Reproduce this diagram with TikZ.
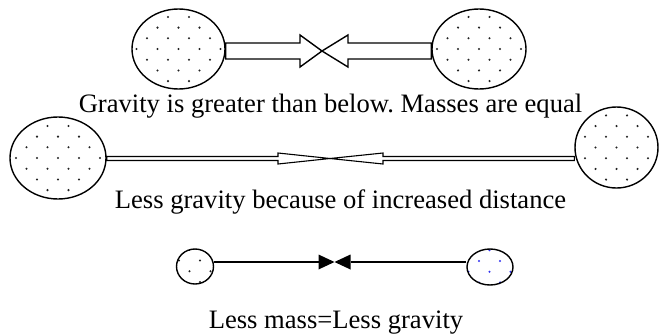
\documentclass[tikz,border=0pt]{standalone}
\usepackage{fontspec}
\setmainfont{Liberation Serif}
\usetikzlibrary{shapes.geometric,calc}
\definecolor{dotgray}{HTML}{222222}
\definecolor{dotblue}{HTML}{3030F0}
\tikzset{
  body/.style={ellipse, draw=black, line width=1.4pt, fill=white, inner sep=0pt},
  speckled/.style n args={3}{path picture={
    \foreach \j in {-4,...,4}{
      \foreach \i in {-3,...,3}{
        \fill[#1] ($(path picture bounding box.center)+({#2+21*\i+10.5*mod(\j+10,2)},{#3+10.7*\j})$) circle (1.15);
      }
    }}},
  blockarrow/.style={draw=black, line width=1.4pt, fill=white, line join=miter},
  thinarrow/.style={draw=black, line width=1.1pt, fill=white, line join=miter},
  connector/.style={draw=black, line width=1.4pt},
  headtri/.style={fill=black},
  caption/.style={font=\fontsize{26.6}{30}\selectfont\frenchspacing, anchor=base, inner sep=0pt}
}
\begin{document}
\begin{tikzpicture}[x=1pt,y=-1pt]
\useasboundingbox (0,0) rectangle (659,335);

% top row
\node[body, speckled={dotgray}{0}{0}, minimum width=93pt, minimum height=80pt] (eL) at (178.5,49) {};
\node[body, speckled={dotgray}{0}{0}, minimum width=94pt, minimum height=80pt] (eR) at (479,49) {};
\coordinate (tA) at (322,51);
\draw[blockarrow] ($(eL.east|-tA)+(0,-8)$) -- ($(tA)+(-22,-8)$) -- ($(tA)+(-22,-16)$) -- (tA)
  -- ($(tA)+(-22,16)$) -- ($(tA)+(-22,8)$) -- ($(eL.east|-tA)+(0,8)$) -- cycle;
\draw[blockarrow] ($(eR.west|-tA)+(0,-8)$) -- ($(tA)+(26,-8)$) -- ($(tA)+(26,-16)$) -- (tA)
  -- ($(tA)+(26,16)$) -- ($(tA)+(26,8)$) -- ($(eR.west|-tA)+(0,8)$) -- cycle;
\node[caption] (t1) at (330.5,112) {Gravity is greater than below. Masses are equal};

% middle row
\node[body, speckled={dotgray}{0}{0}, minimum width=96pt, minimum height=82pt] (mL) at (58,158) {};
\node[body, speckled={dotgray}{0}{0}, minimum width=83pt, minimum height=81pt] (mR) at (616.5,147.5) {};
\coordinate (tM) at (330,158.5);
\draw[thinarrow] ($(mL.east|-tM)+(0,-2)$) -- ($(tM)+(-52,-2)$) -- ($(tM)+(-52,-5.5)$) -- (tM)
  -- ($(tM)+(-52,5.5)$) -- ($(tM)+(-52,2)$) -- ($(mL.east|-tM)+(0,2)$) -- cycle;
\draw[thinarrow] ($(mR.west|-tM)+(0,-2)$) -- ($(tM)+(53,-2)$) -- ($(tM)+(53,-5.5)$) -- (tM)
  -- ($(tM)+(53,5.5)$) -- ($(tM)+(53,2)$) -- ($(mR.west|-tM)+(0,2)$) -- cycle;
\node[caption] (t2) at (340.5,208.5) {Less gravity because of increased distance};

% bottom row
\node[body, speckled={dotgray}{5}{-6}, minimum width=37pt, minimum height=35pt] (bL) at (195,266.5) {};
\node[body, speckled={dotblue}{10}{-6}, minimum width=46pt, minimum height=36pt] (bR) at (490,267) {};
\coordinate (tB) at (334.5,262);
\draw[connector] (bL.east|-tB) -- ($(tB)+(-16,0)$);
\fill[headtri] ($(tB)+(-16,-7.5)$) -- (tB) -- ($(tB)+(-16,7.5)$) -- cycle;
\draw[connector] (bR.west|-tB) -- ($(tB)+(16,0)$);
\fill[headtri] ($(tB)+(16,-7.5)$) -- (tB) -- ($(tB)+(16,7.5)$) -- cycle;
\node[caption] (t3) at (336,328) {Less mass=Less gravity};
\end{tikzpicture}
\end{document}
